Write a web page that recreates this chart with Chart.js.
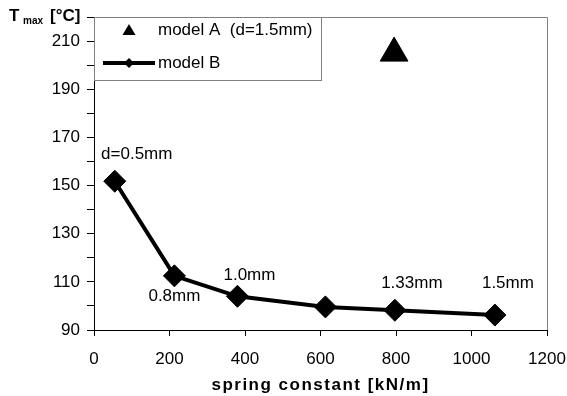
<!DOCTYPE html>
<html><head><meta charset="utf-8">
<script src="https://cdn.jsdelivr.net/npm/chart.js@4"></script>
<style>html,body{margin:0;padding:0;background:#fff}</style>
</head><body>
<canvas id="c" width="567" height="396"></canvas>
<script>
// ---- data ----
const springConstant = [55, 213, 380, 613, 797, 1062];
const modelBTmax = [151.8, 112.5, 104.0, 99.6, 98.2, 96.2];
const pointLabels = ["d=0.5mm", "0.8mm", "1.0mm", "", "1.33mm", "1.5mm"];
const modelASpring = [795];
const modelATmax = [205];
const seriesNames = ["model A  (d=1.5mm)", "model B"];
const yLabelValues = [90, 110, 130, 150, 170, 190, 210];
const xAxisTitle = "spring constant [kN/m]";

const FONT = '"Liberation Sans", Arial, sans-serif';

const labelOffsets = [[22, -27], [0, 20], [12, -21], null, [17, -27], [13, -32]];

const decor = {
  id: 'decor',
  beforeDatasetsDraw(chart) {
    const {ctx, chartArea: a} = chart;
    ctx.save();
    ctx.strokeStyle = '#808080';
    ctx.lineWidth = 1;
    ctx.beginPath();
    ctx.moveTo(a.left, a.top + 0.5);
    ctx.lineTo(a.right + 0.5, a.top + 0.5);
    ctx.lineTo(a.right + 0.5, a.bottom);
    ctx.stroke();
    ctx.restore();
  },
  afterDatasetsDraw(chart) {
    const {ctx, chartArea: a} = chart;
    ctx.save();
    // point labels
    const meta = chart.getDatasetMeta(1);
    ctx.fillStyle = '#000';
    ctx.font = '17px ' + FONT;
    ctx.textAlign = 'center';
    ctx.textBaseline = 'middle';
    meta.data.forEach((pt, i) => {
      const off = labelOffsets[i];
      if (!pointLabels[i] || !off) return;
      ctx.fillText(pointLabels[i], pt.x + off[0], pt.y + off[1]);
    });
    // legend box
    ctx.strokeStyle = '#808080';
    ctx.fillStyle = '#fff';
    ctx.lineWidth = 1;
    ctx.fillRect(a.left + 1, a.top, 227, 63);
    ctx.strokeRect(a.left + 0.5, a.top + 0.5, 227, 63);
    // legend items
    ctx.fillStyle = '#000';
    ctx.textAlign = 'left';
    ctx.fillText(seriesNames[0], 158, 30);
    ctx.fillText(seriesNames[1], 158, 63);
    // triangle
    ctx.beginPath();
    ctx.moveTo(129, 24); ctx.lineTo(135.5, 35); ctx.lineTo(122.5, 35); ctx.closePath();
    ctx.fill();
    // line + diamond
    ctx.strokeStyle = '#000';
    ctx.lineWidth = 4;
    ctx.beginPath(); ctx.moveTo(103, 63); ctx.lineTo(155, 63); ctx.stroke();
    ctx.beginPath();
    ctx.moveTo(129, 58); ctx.lineTo(134, 63); ctx.lineTo(129, 68); ctx.lineTo(124, 63); ctx.closePath();
    ctx.fill();
    // y title  T_max [°C]
    ctx.font = 'bold 17px ' + FONT;
    ctx.textBaseline = 'alphabetic';
    ctx.fillText('T', 9, 21);
    ctx.font = 'bold 10px ' + FONT;
    ctx.fillText('max', 23, 24);
    ctx.font = 'bold 17px ' + FONT;
    ctx.fillText('[°C]', 50, 21);
    // x title
    ctx.textAlign = 'center';
    ctx.textBaseline = 'middle';
    ctx.letterSpacing = '1.5px';
    ctx.fillText(xAxisTitle, (a.left + a.right) / 2, 385);
    ctx.restore();
  }
};

new Chart(document.getElementById('c'), {
  type: 'scatter',
  data: {
    datasets: [
      {
        label: seriesNames[0],
        data: modelASpring.map((x, i) => ({x, y: modelATmax[i]})),
        pointStyle: 'triangle',
        pointRadius: 16,
        backgroundColor: '#000',
        borderColor: '#000',
        showLine: false
      },
      {
        label: seriesNames[1],
        data: springConstant.map((x, i) => ({x, y: modelBTmax[i]})),
        pointStyle: 'rectRot',
        pointRadius: 11,
        backgroundColor: '#000',
        borderColor: '#000',
        borderWidth: 4,
        pointBorderWidth: 1,
        showLine: true
      }
    ]
  },
  options: {
    responsive: false,
    animation: false,
    devicePixelRatio: 1,
    layout: {padding: {left: 0, right: 20, top: 14, bottom: 0}},
    plugins: {legend: {display: false}, tooltip: {enabled: false}},
    scales: {
      x: {
        type: 'linear', min: 0, max: 1200,
        ticks: {stepSize: 200, color: '#000', font: {size: 17, family: FONT}, padding: 13, maxRotation: 0,
          callback: v => String(v)},
        grid: {drawOnChartArea: false, drawTicks: true, tickLength: 6, color: '#000'},
        border: {color: '#000', width: 1},
        afterFit(s) { s.height = 66; s.paddingLeft = 0; s.paddingRight = 0; }
      },
      y: {
        type: 'linear', min: 90, max: 220,
        ticks: {
          stepSize: 10, color: '#000', font: {size: 17, family: FONT}, padding: 7,
          callback: v => yLabelValues.includes(v) ? String(v) : ''
        },
        grid: {drawOnChartArea: false, drawTicks: true, tickLength: 7, color: '#000'},
        border: {color: '#000', width: 1},
        afterFit(s) { s.width = 94; s.paddingTop = 0; s.paddingBottom = 0; }
      }
    }
  },
  plugins: [decor]
});
</script>
</body></html>
